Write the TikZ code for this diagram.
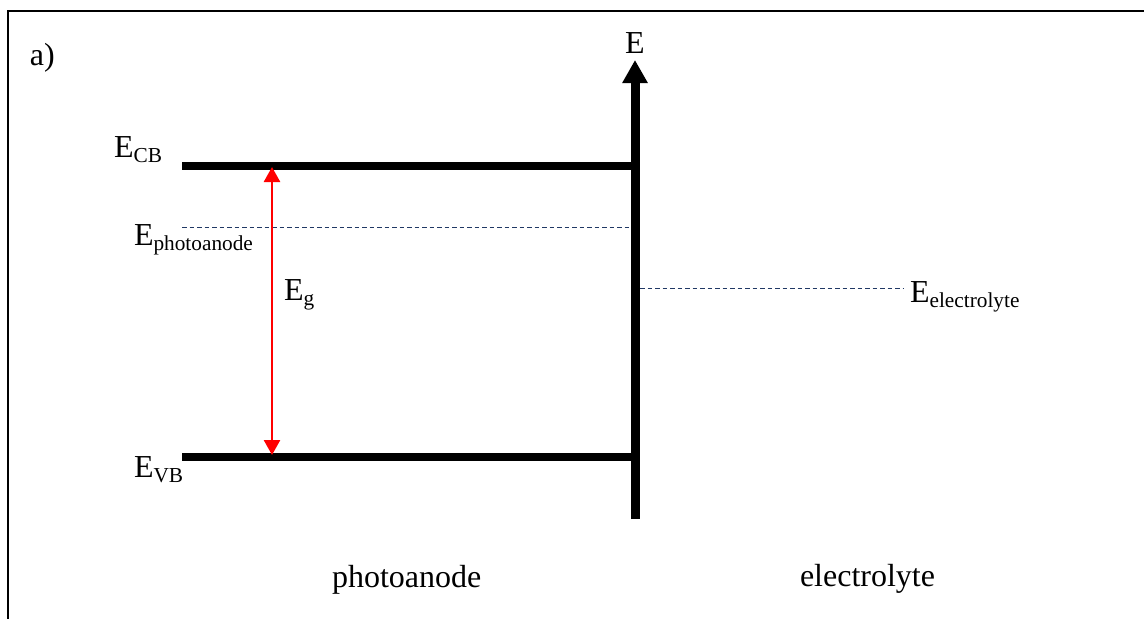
\documentclass[tikz,border=0pt]{standalone}
\usepackage{fontspec}
\setmainfont{Liberation Serif}
\usetikzlibrary{arrows.meta}
\definecolor{navy}{RGB}{32,56,100}
\newcommand\sbs[1]{\raisebox{-5pt}{\fontsize{21.3}{24}\selectfont #1}}
\tikzset{
  lbl/.style={inner sep=0pt, outer sep=0pt, font=\fontsize{32}{38}\selectfont},
  band/.style={line width=7.5pt, line cap=butt},
  level/.style={navy, line width=1pt, dash pattern=on 4.5pt off 3pt},
  gap/.style={red, line width=2.5pt, {Triangle[width=16pt,length=15pt]}-{Triangle[width=16pt,length=15pt]}},
  axis/.style={line width=9pt, -{Triangle[width=24pt,length=23pt]}},
  frame/.style={line width=2.2pt}
}
\begin{document}
\begin{tikzpicture}[x=1pt,y=-1pt]
\useasboundingbox (0,0) rectangle (1144,619);
% frame (cropped)
\draw[frame] (1144,11) -- (8,11) -- (8,619);
% coordinates
\coordinate (axb) at (635,519);
\coordinate (axt) at (635,60);
\coordinate (cbL) at (182,166);
\coordinate (cbR) at (635,166);
\coordinate (vbL) at (182,457);
\coordinate (vbR) at (635,457);
\coordinate (paL) at (182,227);
\coordinate (paR) at (631,227);
\coordinate (elL) at (640,288);
\coordinate (elR) at (903,288);
\coordinate (gT) at (272,167);
\coordinate (gB) at (272,455);
% lines
\draw[band] (cbL) -- (cbR);
\draw[band] (vbL) -- (vbR);
\draw[axis] (axb) -- (axt);
\draw[level] (paL) -- (paR);
\draw[level] (elL) -- (elR);
\draw[gap] (gT) -- (gB);
% labels
\node[lbl, anchor=base west] (a) at (30,65) {a)};
\node[lbl, anchor=base] (E) at (635,53) {E};
\node[lbl, anchor=base west] (ecb) at (114,157) {E\sbs{CB}};
\node[lbl, anchor=base west] (epa) at (134,245) {E\sbs{photoanode}};
\node[lbl, anchor=base west] (eg) at (284,300) {E\sbs{g}};
\node[lbl, anchor=base west] (evb) at (134,477) {E\sbs{VB}};
\node[lbl, anchor=base west] (eel) at (910,302) {E\sbs{electrolyte}};
\node[lbl, anchor=base west] (pa) at (332,587) {photoanode};
\node[lbl, anchor=base west] (el) at (800,586) {electrolyte};
\end{tikzpicture}
\end{document}
